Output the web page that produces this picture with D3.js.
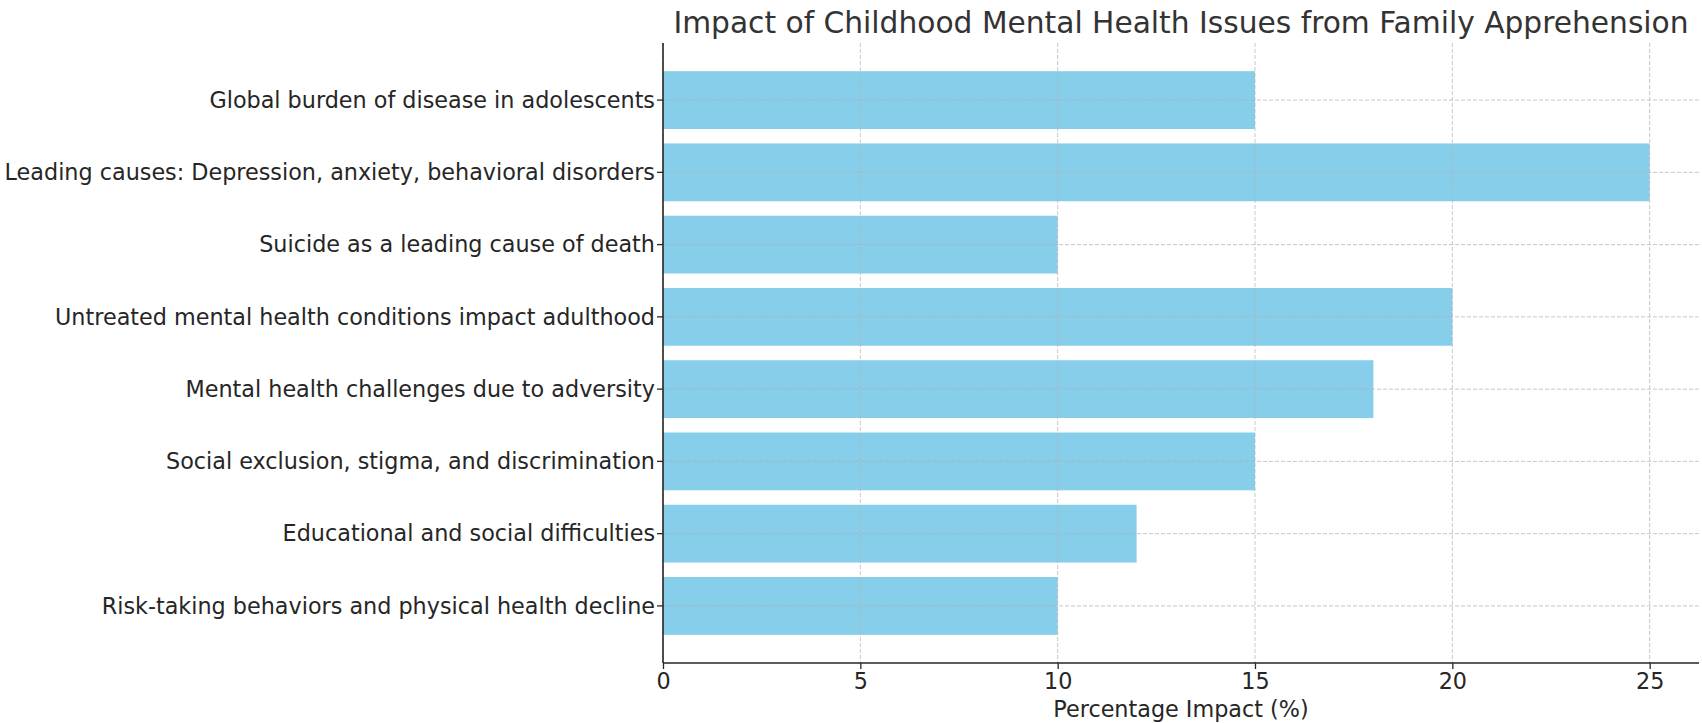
<!DOCTYPE html>
<html>
<head>
<meta charset="utf-8">
<script src="https://cdn.jsdelivr.net/npm/d3@7"></script>
<style>
    body { margin: 0; background: #fff; }
    text { font-family: "DejaVu Sans", sans-serif; fill: #262626; }
</style>
</head>
<body>
<div id="chart"></div>
<script>
// 데이터
const categories = [
    "Global burden of disease in adolescents",
    "Leading causes: Depression, anxiety, behavioral disorders",
    "Suicide as a leading cause of death",
    "Untreated mental health conditions impact adulthood",
    "Mental health challenges due to adversity",
    "Social exclusion, stigma, and discrimination",
    "Educational and social difficulties",
    "Risk-taking behaviors and physical health decline"
];
const impactValues = [15, 25, 10, 20, 18, 15, 12, 10];
const xTicks = [0, 5, 10, 15, 20, 25];

const width = 1036;
const height = 620;
const margin = { top: 43, right: 3, bottom: 60, left: 663 };
const fontSize = "22.3px";

const svg = d3.select("#chart")
    .append("svg")
    .attr("width", width + margin.left + margin.right)
    .attr("height", height + margin.top + margin.bottom)
    .append("g")
    .attr("transform", `translate(${margin.left}, ${margin.top})`);

const xScale = d3.scaleLinear()
    .domain([0, 26.25])
    .range([0, width]);

// matplotlib 처럼 y 위치 0..7, 여백 포함
const yScale = d3.scaleLinear()
    .domain([-0.79, 7.79])
    .range([0, height]);
const barH = yScale(0.8) - yScale(0);

// bars
svg.selectAll("rect.bar")
    .data(impactValues)
    .enter()
    .append("rect")
    .attr("class", "bar")
    .attr("fill", "#87ceeb")
    .attr("x", xScale(0))
    .attr("y", (d, i) => yScale(i) - barH / 2)
    .attr("width", d => xScale(d) - xScale(0))
    .attr("height", barH);

// grid (bar 위에 그림)
svg.append("g")
    .selectAll("line")
    .data(xTicks)
    .enter()
    .append("line")
    .attr("x1", d => xScale(d))
    .attr("x2", d => xScale(d))
    .attr("y1", 0)
    .attr("y2", height)
    .attr("stroke", "#b0b0b0")
    .attr("stroke-opacity", 0.7)
    .attr("stroke-dasharray", "4,2");

svg.append("g")
    .selectAll("line")
    .data(categories)
    .enter()
    .append("line")
    .attr("x1", 0)
    .attr("x2", width)
    .attr("y1", (d, i) => yScale(i))
    .attr("y2", (d, i) => yScale(i))
    .attr("stroke", "#b0b0b0")
    .attr("stroke-opacity", 0.7)
    .attr("stroke-dasharray", "4,2");

// x axis
const xAxis = d3.axisBottom(xScale)
    .tickValues(xTicks)
    .tickSize(6)
    .tickPadding(4);

const xAxisGroup = svg.append("g")
    .attr("transform", `translate(0, ${height})`)
    .call(xAxis);
xAxisGroup.select(".domain").remove();
xAxisGroup.selectAll("line").attr("stroke", "#262626").attr("stroke-width", 1.3);
xAxisGroup.selectAll("text")
    .style("font-size", fontSize)
    .style("font-family", "DejaVu Sans")
    .attr("fill", "#262626");

// y axis
const yAxisGroup = svg.append("g");
yAxisGroup.selectAll("line")
    .data(categories)
    .enter()
    .append("line")
    .attr("x1", -6)
    .attr("x2", 0)
    .attr("y1", (d, i) => yScale(i))
    .attr("y2", (d, i) => yScale(i))
    .attr("stroke", "#262626")
    .attr("stroke-width", 1.3);
yAxisGroup.selectAll("text")
    .data(categories)
    .enter()
    .append("text")
    .attr("x", -8)
    .attr("y", (d, i) => yScale(i))
    .attr("dy", "0.35em")
    .style("text-anchor", "end")
    .style("font-size", fontSize)
    .text(d => d);

// spines (left, bottom)
svg.append("line")
    .attr("x1", 0).attr("x2", 0)
    .attr("y1", 0).attr("y2", height)
    .attr("stroke", "#262626").attr("stroke-width", 1.6);
svg.append("line")
    .attr("x1", 0).attr("x2", width)
    .attr("y1", height).attr("y2", height)
    .attr("stroke", "#262626").attr("stroke-width", 1.6);

// x axis label
svg.append("text")
    .attr("x", width / 2)
    .attr("y", height + 54)
    .style("text-anchor", "middle")
    .style("font-size", fontSize)
    .text("Percentage Impact (%)");

// title
svg.append("text")
    .attr("x", width / 2)
    .attr("y", -10)
    .style("text-anchor", "middle")
    .style("font-size", "29.7px")
    .style("fill", "#333")
    .text("Impact of Childhood Mental Health Issues from Family Apprehension");
</script>
</body>
</html>
